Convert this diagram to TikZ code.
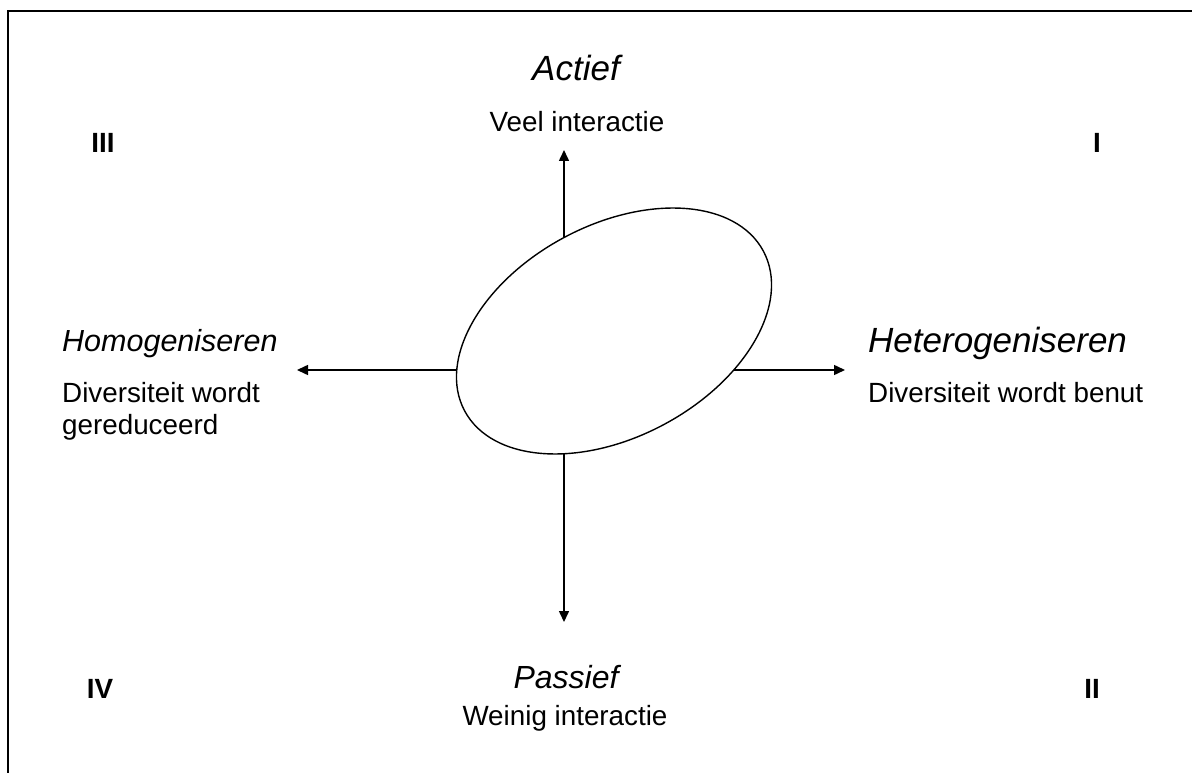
\documentclass[tikz,border=0pt]{standalone}
\usepackage{fontspec}
\setmainfont{Liberation Sans}
\usetikzlibrary{arrows.meta,shapes.geometric}

\newcommand{\fsz}[1]{\fontsize{#1}{32}\selectfont}

\tikzset{
  axis/.style={line width=1.5pt, -{Triangle[length=11pt,width=10pt]}},
  frameline/.style={line width=2pt},
  lbl/.style={inner sep=0pt, font=\fsz{27.8}},
  ilbl/.style={inner sep=0pt, font=\fsz{#1}\itshape},
  quad/.style={lbl, anchor=base, font=\fsz{27.8}\bfseries},
  oval/.style={draw, ellipse, fill=white, line width=1.4pt, inner sep=0pt}
}

\begin{document}
\begin{tikzpicture}[x=1pt, y=-1pt]
  \useasboundingbox (0,0) rectangle (1192,773);

  % open frame: top and left edges
  \coordinate (fTL) at (8,11.5);
  \coordinate (fTR) at (1192,11.5);
  \coordinate (fBL) at (8,773);
  \draw[frameline] (fBL) -- (fTL) -- (fTR);

  % axes
  \coordinate (c) at (564,370);
  \coordinate (up) at (564,150);
  \coordinate (down) at (564,622);
  \coordinate (left) at (297,370);
  \coordinate (right) at (845,370);
  \draw[axis] (c) -- (up);
  \draw[axis] (c) -- (down);
  \draw[axis] (c) -- (left);
  \draw[axis] (c) -- (right);

  % central oval
  \node[oval, minimum width=338.8pt, minimum height=212pt, rotate=28.15] (ov) at (614,331) {};

  % axis labels
  \node[ilbl=35, anchor=base] (actief) at (576,80.5) {Actief};
  \node[lbl, anchor=base] (veel) at (577,132) {Veel interactie};

  \node[ilbl=30.5, anchor=base west] (homo) at (62,351) {Homogeniseren};
  \node[lbl, anchor=base west] (homo1) at (62,402) {Diversiteit wordt};
  \node[lbl, anchor=base west] (homo2) at (62,434) {gereduceerd};

  \node[ilbl=35, anchor=base west] (hetero) at (868,352.5) {Heterogeniseren};
  \node[lbl, anchor=base west] (hetero1) at (868,402) {Diversiteit wordt benut};

  \node[ilbl=32, anchor=base] (passief) at (566,688.5) {Passief};
  \node[lbl, anchor=base] (weinig) at (565,725) {Weinig interactie};

  % quadrant numerals
  \node[quad] (q3) at (103,153) {III};
  \node[quad] (q1) at (1097,153) {I};
  \node[quad] (q4) at (100,698) {IV};
  \node[quad] (q2) at (1092,698) {II};
\end{tikzpicture}
\end{document}
